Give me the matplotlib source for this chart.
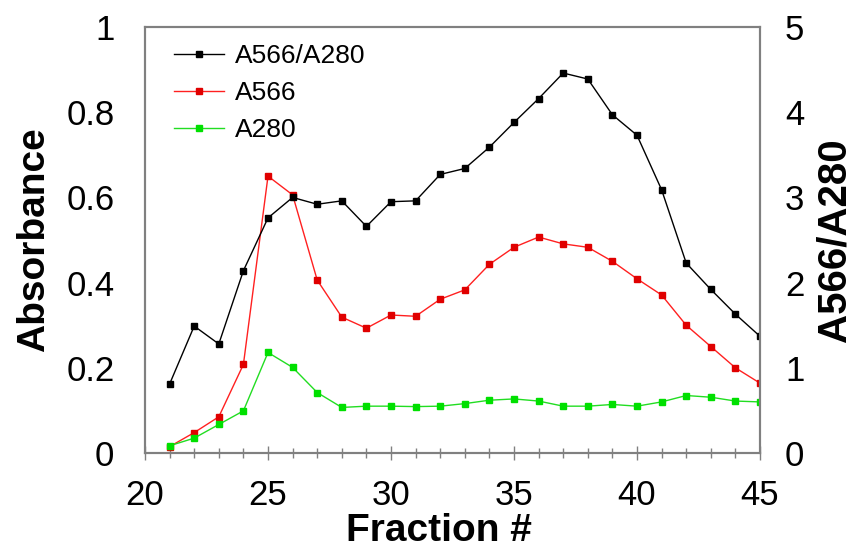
import matplotlib
matplotlib.use('Agg')
import matplotlib.pyplot as plt
from matplotlib.ticker import MultipleLocator

plt.rcParams['font.family'] = ['Liberation Sans', 'DejaVu Sans']

fractions = list(range(21, 46))
a566 = [0.015, 0.048, 0.085, 0.208, 0.650, 0.606, 0.406, 0.319, 0.293, 0.324, 0.321, 0.361,
        0.383, 0.443, 0.483, 0.507, 0.491, 0.483, 0.450, 0.409, 0.371, 0.300, 0.250, 0.200, 0.164]
a280 = [0.017, 0.035, 0.067, 0.099, 0.236, 0.201, 0.142, 0.107, 0.110, 0.110, 0.109, 0.110,
        0.116, 0.124, 0.127, 0.122, 0.110, 0.110, 0.114, 0.110, 0.120, 0.135, 0.131, 0.122, 0.120]
ratio = [0.81, 1.49, 1.28, 2.14, 2.76, 3.00, 2.92, 2.96, 2.66, 2.95, 2.96, 3.27,
         3.34, 3.59, 3.88, 4.16, 4.46, 4.39, 3.97, 3.73, 3.09, 2.23, 1.92, 1.63, 1.37]

abs_ticks = [0, 0.2, 0.4, 0.6, 0.8, 1]
abs_labels = ['0', '0.2', '0.4', '0.6', '0.8', '1']
ratio_ticks = [0, 1, 2, 3, 4, 5]

grey = '#808080'

fig = plt.figure(figsize=(8.55, 5.52), dpi=100)
ax = fig.add_axes([0.1696, 0.1793, 0.7193, 0.7717])
ax2 = ax.twinx()

l2, = ax.plot(fractions, a566, color='#ff2020', lw=1, marker='s', ms=4.5,
              mfc='#e00000', mec='#e00000', label='A566')
l3, = ax.plot(fractions, a280, color='#22dd22', lw=1, marker='s', ms=4.5,
              mfc='#00e000', mec='#00e000', label='A280')
l1, = ax2.plot(fractions, ratio, color='black', lw=1, marker='s', ms=4.5,
               label='A566/A280')

ax.set_xlim(20, 45)
ax.set_ylim(0, 1)
ax2.set_ylim(0, 5)

ax.xaxis.set_major_locator(MultipleLocator(5))
ax.xaxis.set_minor_locator(MultipleLocator(1))
ax.set_yticks(abs_ticks, abs_labels)
ax2.set_yticks(ratio_ticks)

ax.tick_params(axis='x', which='major', direction='inout', length=10, width=1, color=grey,
               labelsize=25, pad=14)
ax.tick_params(axis='x', which='minor', direction='inout', length=7, width=1, color=grey)
ax.tick_params(axis='y', length=0, labelsize=25, pad=22)
ax2.tick_params(axis='y', length=0, labelsize=25, pad=18)

for a in (ax, ax2):
    for s in a.spines.values():
        s.set_color(grey)
        s.set_linewidth(1.5)

ax.set_xlabel('Fraction #', fontsize=28, fontweight='bold', labelpad=2)
ax.xaxis.set_label_coords(0.478, -0.14)
ax.set_ylabel('Absorbance', fontsize=28, fontweight='bold', labelpad=10)
ax2.set_ylabel('A566/A280', fontsize=29, fontweight='bold', labelpad=8)

ax2.legend(handles=[l1, l2, l3], loc='upper left', bbox_to_anchor=(0.03, 0.985),
           frameon=False, fontsize=19, handlelength=1.9, handletextpad=0.4,
           labelspacing=0.5, borderaxespad=0)

fig.savefig('out.png', dpi=100)
